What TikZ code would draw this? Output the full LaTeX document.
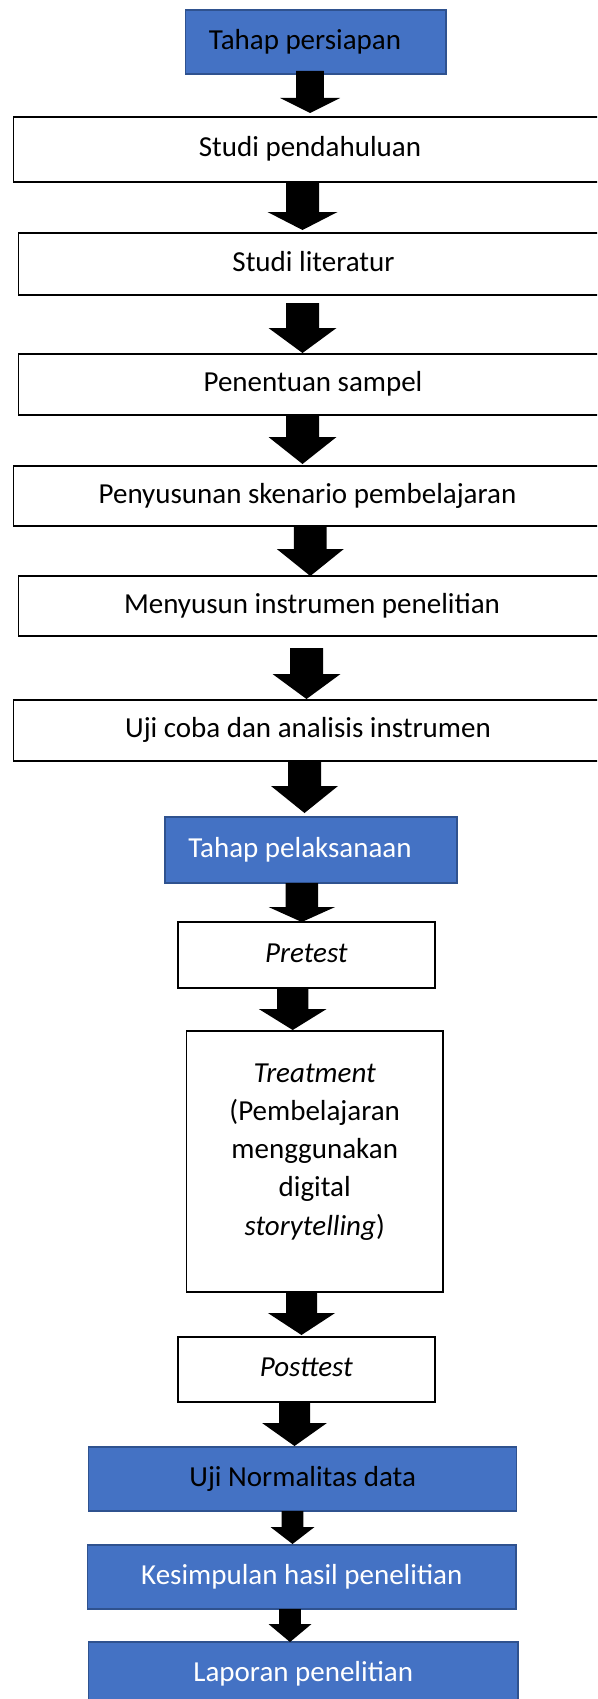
\documentclass[tikz,border=0pt]{standalone}
\usepackage{fontspec}
\setmainfont{Carlito}
\usetikzlibrary{calc}
\definecolor{boxblue}{HTML}{4472C4}
\definecolor{boxedge}{HTML}{2F528F}
\tikzset{
  basebox/.style={rectangle, inner sep=0pt, outer sep=0pt, text height=21.75pt, text depth=7.25pt, font=\fontsize{29}{38.1}\selectfont},
  whitebox/.style={basebox, draw=black, line width=1.6pt, fill=white},
  bluebox/.style={basebox, draw=boxedge, line width=1.5pt, fill=boxblue},
  arrowfill/.style={fill=black},
}
% #1 from node, #2 to node, #3 x, #4 start offset, #5 tip offset, #6 shaft half width, #7 head half width, #8 head length
\newcommand\blockarr[8]{%
  \fill[arrowfill] let \p1=(#1.south -| #3,0), \p2=(#2.north -| #3,0) in
    ({\x1-#6pt},{\y1-(#4pt)}) -- ({\x1+#6pt},{\y1-(#4pt)}) --
    ({\x1+#6pt},{\y2+#5pt+#8pt}) -- ({\x1+#7pt},{\y2+#5pt+#8pt}) --
    ({\x1},{\y2+#5pt}) --
    ({\x1-#7pt},{\y2+#5pt+#8pt}) -- ({\x1-#6pt},{\y2+#5pt+#8pt}) -- cycle;}
\begin{document}
\begin{tikzpicture}[x=1pt,y=-1pt]
\useasboundingbox (0,0) rectangle (597,1699);
\clip (0,0) rectangle (597,1699);
\fill[white] (0,0) rectangle (597,1699);

\node[bluebox, minimum width=260.8, minimum height=64, text=black] (tp) at (315.8,42) {Tahap persiapan\hspace*{21.6pt}};
\node[whitebox, minimum width=593.4, minimum height=65] (sp) at (310,149.5) {Studi pendahuluan};
\node[whitebox, minimum width=590.4, minimum height=62] (sl) at (313.5,264) {Studi literatur};
\node[whitebox, minimum width=589.4, minimum height=61] (ps) at (313,384.5) {Penentuan sampel};
\node[whitebox, minimum width=588.4, minimum height=60] (sk) at (307.5,496) {Penyusunan skenario pembelajaran};
\node[whitebox, minimum width=587.4, minimum height=60] (mi) at (312,606) {Menyusun instrumen penelitian};
\node[whitebox, minimum width=589.4, minimum height=61] (uc) at (308,730.5) {Uji coba dan analisis instrumen};
\node[bluebox, minimum width=292, minimum height=66, text=white] (tl) at (310.9,850) {Tahap pelaksanaan\hspace*{21.8pt}};
\node[whitebox, minimum width=256.8, minimum height=66] (pre) at (306.4,955) {\textit{Pretest}};
\node[whitebox, minimum width=256.2, minimum height=261] (tr) at (314.7,1161.5) {};
\node[align=center, inner sep=0pt, font=\fontsize{29}{38.1}\selectfont] (trtext) at (314.7,1151.6)
  {\rule{0pt}{21.75pt}\textit{Treatment}\\(Pembelajaran\\menggunakan\\digital\\\textit{storytelling})\rule[-7.25pt]{0pt}{0pt}};
\node[whitebox, minimum width=256.8, minimum height=65] (post) at (306.4,1369.5) {\textit{Posttest}};
\node[bluebox, minimum width=428, minimum height=64, text=black] (un) at (302.7,1479) {Uji Normalitas data};
\node[bluebox, minimum width=428.4, minimum height=64, text=white] (ks) at (301.8,1577) {Kesimpulan hasil penelitian};
\node[bluebox, minimum width=429.1, minimum height=64, text=white] (lp) at (303.25,1674) {Laporan penelitian};

\blockarr{tp}{sp}{310}{-3}{4}{13.8}{30}{15}
\blockarr{sp}{sl}{302.5}{0}{3}{16.5}{35}{18}
\blockarr{sl}{ps}{302.5}{8}{1}{16.5}{34}{25}
\blockarr{ps}{sk}{302.5}{0}{2}{16.5}{34}{27}
\blockarr{sk}{mi}{310.3}{0}{0}{16.4}{33.5}{27}
\blockarr{mi}{uc}{306.5}{12}{1}{16.5}{34}{25}
\blockarr{uc}{tl}{304.5}{0}{4}{16.5}{33.5}{27}
\blockarr{tl}{pre}{301.8}{0}{0}{16.2}{33.3}{15}
\blockarr{pre}{tr}{292.7}{0}{1}{15.7}{33.9}{21}
\blockarr{tr}{post}{301.5}{0}{2}{15.5}{33.6}{22}
\blockarr{post}{un}{294.5}{0}{1}{15.5}{32.4}{23}
\blockarr{un}{ks}{292.5}{0}{1}{10.8}{22}{17}
\blockarr{ks}{lp}{290}{0}{0}{10.9}{21.5}{18}
\end{tikzpicture}
\end{document}
